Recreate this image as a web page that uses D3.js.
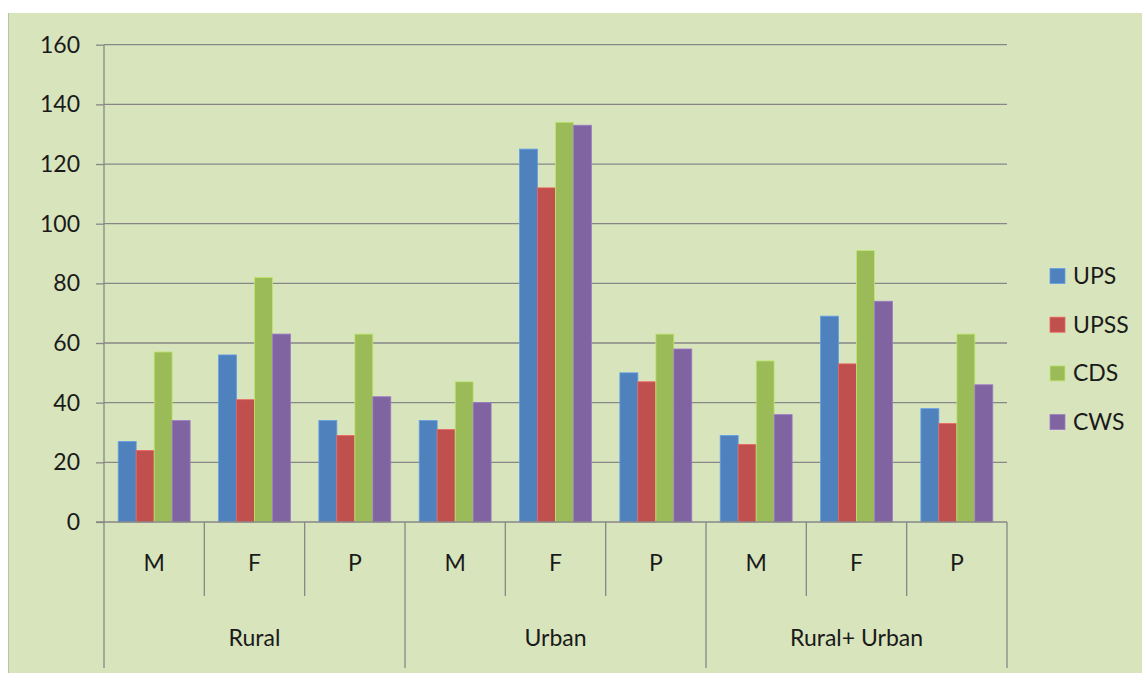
<!DOCTYPE html>
<html>
<head>
<meta charset="utf-8">
<script src="https://cdn.jsdelivr.net/npm/d3@7"></script>
<style>
  html, body { margin: 0; padding: 0; background: #ffffff; }
  svg { display: block; }
  text { font-family: Lato, "Open Sans", sans-serif; fill: #1a1a1a; }
</style>
</head>
<body>
<svg id="chart" width="1142" height="673"></svg>
<script>
const groups = ["Rural", "Urban", "Rural+ Urban"];
const subCategories = ["M", "F", "P"];
const seriesNames = ["UPS", "UPSS", "CDS", "CWS"];
const seriesColors = ["#4F81BD", "#C0504D", "#9BBB59", "#8064A2"];
const UPS  = [27, 56, 34, 34, 125, 50, 29, 69, 38];
const UPSS = [24, 41, 29, 31, 112, 47, 26, 53, 33];
const CDS  = [57, 82, 63, 47, 134, 63, 54, 91, 63];
const CWS  = [34, 63, 42, 40, 133, 58, 36, 74, 46];
const yTicks = [0, 20, 40, 60, 80, 100, 120, 140, 160];

const seriesValues = [UPS, UPSS, CDS, CWS];
const categories = [];
groups.forEach(g => subCategories.forEach(s => categories.push(g + "|" + s)));

const svg = d3.select("#chart");
const W = 1142, H = 673;
const plot = { left: 104, right: 1007, top: 44.7, bottom: 522 };
const FS = 23;

// background
svg.append("rect").attr("x", 8).attr("y", 13).attr("width", W - 8).attr("height", H - 13)
  .attr("fill", "#D8E4BC");
svg.append("line").attr("x1", 8.5).attr("x2", 8.5).attr("y1", 13).attr("y2", H)
  .attr("stroke", "#b9c4a2").attr("stroke-width", 1);

const x = d3.scaleBand().domain(categories).range([plot.left, plot.right]).paddingInner(0).paddingOuter(0);
const y = d3.scaleLinear().domain([0, 160]).range([plot.bottom, plot.top]);
const xs = d3.scaleBand().domain(seriesNames).range([0, x.bandwidth()]).paddingInner(0).paddingOuter(0.79);

const gridColor = "#878787";

// gridlines + y ticks
const yAxis = d3.axisLeft(y).tickValues(yTicks).tickSize(8).tickPadding(16);
const yg = svg.append("g").attr("transform", `translate(${plot.left},0)`).call(yAxis);
yg.select(".domain").remove();
yg.selectAll(".tick line").attr("stroke", gridColor).attr("stroke-width", 1.3);
yg.selectAll(".tick text").attr("font-size", FS).attr("font-family", "Lato, sans-serif").attr("fill", "#1a1a1a");
svg.append("g").selectAll("line").data(yTicks.filter(t => t > 0)).join("line")
  .attr("x1", plot.left).attr("x2", plot.right)
  .attr("y1", d => y(d)).attr("y2", d => y(d))
  .attr("stroke", gridColor).attr("stroke-width", 1.3);

// bars
const barG = svg.append("g");
seriesNames.forEach((s, si) => {
  barG.append("g").selectAll("rect").data(seriesValues[si]).join("rect")
    .attr("x", (d, i) => x(categories[i]) + xs(s))
    .attr("y", d => y(d))
    .attr("width", xs.bandwidth())
    .attr("height", d => y(0) - y(d))
    .attr("fill", seriesColors[si])
    .attr("stroke", d3.color(seriesColors[si]).brighter(0.6))
    .attr("stroke-width", 0.8);
});

// y axis line and x axis line
svg.append("line").attr("x1", plot.left).attr("x2", plot.left).attr("y1", plot.top).attr("y2", 668)
  .attr("stroke", gridColor).attr("stroke-width", 1.3);
svg.append("line").attr("x1", plot.left - 8).attr("x2", plot.right).attr("y1", y(0)).attr("y2", y(0))
  .attr("stroke", gridColor).attr("stroke-width", 1.3);

// category separators
const gxLines = svg.append("g");
categories.forEach((c, i) => {
  if (i === 0) return;
  const xx = x(c);
  const isGroup = i % subCategories.length === 0;
  gxLines.append("line").attr("x1", xx).attr("x2", xx).attr("y1", y(0)).attr("y2", isGroup ? 668 : 596)
    .attr("stroke", gridColor).attr("stroke-width", 1.3);
});
svg.append("line").attr("x1", plot.right).attr("x2", plot.right).attr("y1", y(0)).attr("y2", 668)
  .attr("stroke", gridColor).attr("stroke-width", 1.3);

// sub-category labels
svg.append("g").selectAll("text").data(categories).join("text")
  .attr("x", d => x(d) + x.bandwidth() / 2)
  .attr("y", 563)
  .attr("dy", "0.35em")
  .attr("text-anchor", "middle")
  .attr("font-size", FS)
  .text(d => d.split("|")[1]);

// group labels
svg.append("g").selectAll("text").data(groups).join("text")
  .attr("x", (g, gi) => x(categories[gi * 3]) + x.bandwidth() * 1.5)
  .attr("y", 638)
  .attr("dy", "0.35em")
  .attr("text-anchor", "middle")
  .attr("font-size", FS)
  .text(d => d);

// legend
const leg = svg.append("g");
seriesNames.forEach((s, i) => {
  const cy = 276 + i * 48.7;
  leg.append("rect").attr("x", 1050).attr("y", cy - 7.5).attr("width", 15).attr("height", 15)
    .attr("fill", seriesColors[i]).attr("stroke", d3.color(seriesColors[i]).brighter(0.6)).attr("stroke-width", 0.8);
  leg.append("text").attr("x", 1073).attr("y", cy).attr("dy", "0.35em").attr("font-size", FS).text(s);
});
</script>
</body>
</html>
